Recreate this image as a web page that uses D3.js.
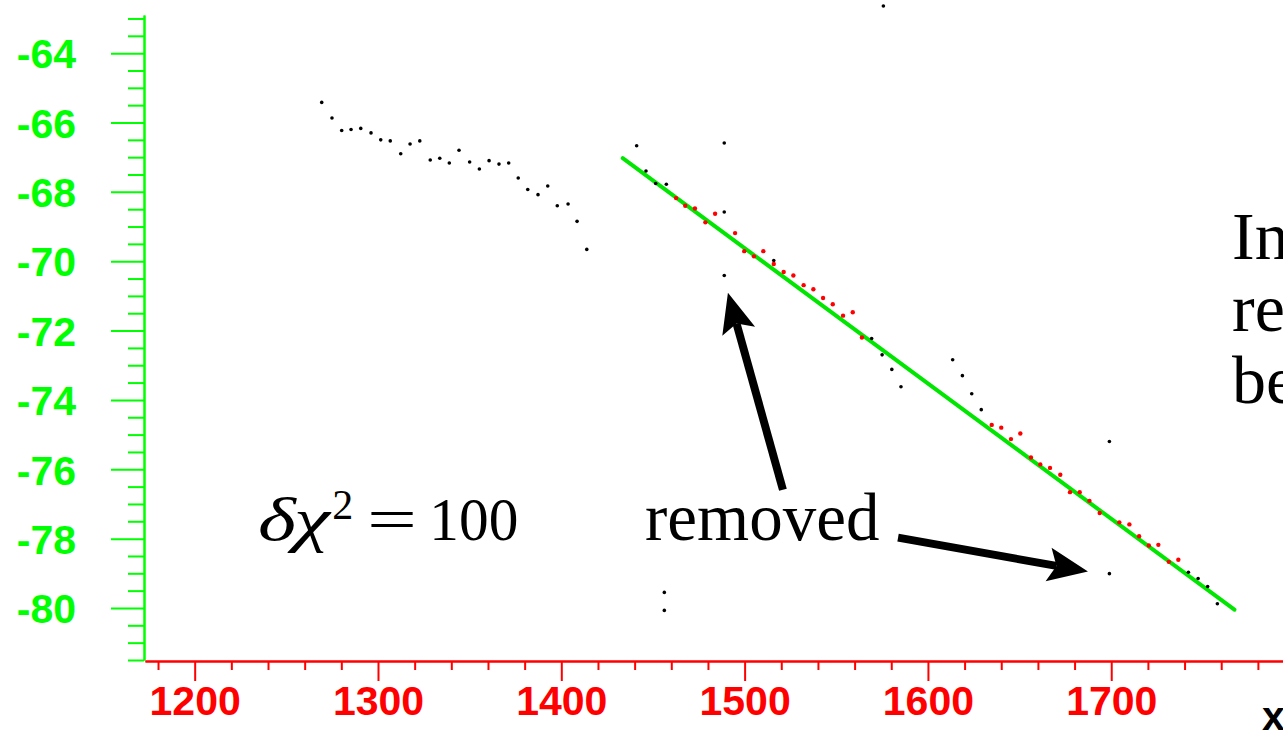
<!DOCTYPE html>
<html>
<head>
<meta charset="utf-8">
<script src="https://cdn.jsdelivr.net/npm/d3@7"></script>
<style>
    body { margin: 0; background: #ffffff; }
    svg { display: block; }
</style>
</head>
<body>
<div id="chart"></div>
<script>
// Axis labels
const xTicks = [1200, 1300, 1400, 1500, 1600, 1700];
const yTicks = [-80, -78, -76, -74, -72, -70, -68, -66, -64];

// Black points (all solutions, not used in the fit)
const blackX = [1269.3, 1274.9, 1280.2, 1285.3, 1290.6, 1296.2, 1301.5, 1306.7, 1312.4, 1317.5,
    1322.8, 1328.5, 1333.7, 1338.9, 1344.2, 1350.0, 1355.3, 1360.6, 1366.0, 1371.3,
    1376.5, 1381.7, 1387.3, 1392.6, 1397.8, 1403.7, 1408.6, 1413.9,
    1441.1, 1446.2, 1451.5, 1457.3, 1456.2, 1456.2, 1488.9, 1488.9, 1488.9, 1515.9,
    1569.3, 1575.0, 1575.7, 1580.3, 1585.3, 1613.5, 1618.8, 1623.9, 1629.1,
    1699.0, 1699.0, 1742.1, 1747.4, 1752.6, 1757.9];
const blackY = [-65.42, -65.87, -66.23, -66.20, -66.17, -66.30, -66.50, -66.53, -66.90, -66.62,
    -66.53, -67.08, -67.03, -67.17, -66.80, -67.14, -67.34, -67.10, -67.20, -67.17,
    -67.60, -67.93, -68.08, -67.83, -68.40, -68.35, -68.85, -69.66,
    -66.67, -67.40, -67.76, -67.78, -79.55, -80.07, -66.59, -68.58, -70.41, -69.98,
    -72.23, -72.70, -62.64, -73.12, -73.62, -72.84, -73.30, -73.82, -74.28,
    -75.20, -79.01, -78.97, -79.15, -79.38, -79.88];

// Red points (kept in the fit)
const redX = [1462.6, 1467.6, 1472.9, 1478.6, 1483.9, 1494.8, 1499.8, 1505.1, 1510.2, 1515.9,
    1521.3, 1526.6, 1532.2, 1537.5, 1542.8, 1548.1, 1553.7, 1559.0, 1564.0,
    1634.8, 1640.0, 1645.3, 1650.4, 1656.2, 1661.3, 1666.6, 1672.2, 1677.5, 1682.8,
    1688.1, 1693.7, 1704.4, 1709.9, 1715.2, 1720.5, 1725.7, 1731.4, 1736.6];
const redY = [-68.18, -68.40, -68.48, -68.88, -68.63, -69.19, -69.71, -69.86, -69.71, -70.08,
    -70.31, -70.41, -70.69, -70.81, -71.06, -71.24, -71.57, -71.47, -72.20,
    -74.72, -74.80, -75.13, -74.97, -75.66, -75.86, -75.96, -76.16, -76.66, -76.66,
    -76.91, -77.26, -77.53, -77.59, -77.93, -78.20, -78.18, -78.67, -78.61];

// Fitted straight line (end points)
const fitX = [1433.5, 1767.2];
const fitY = [-67.03, -80.05];

// Arrows: [tailX, tailY, tipX, tipY] in data units
const arrows = [
    [1520.9, -76.59, 1490.9, -70.91],
    [1583.7, -77.97, 1687.3, -78.95]
];

const width = 1283, height = 731;

const svg = d3.select("#chart").append("svg")
    .attr("width", width)
    .attr("height", height);

const x = d3.scaleLinear().domain([1172.9, 1793.7]).range([145, 1283]);
const y = d3.scaleLinear().domain([-81.5, -62.9]).range([660, 15]);

const axisFont = "'Liberation Sans', Arial, Helvetica, sans-serif";

// Y axis (green) - minor ticks first, then the major ones with labels
const yMinor = d3.range(-81.5, -62.9, 0.5).filter(v => !yTicks.includes(v));
const yAxisMinor = svg.append("g")
    .attr("transform", "translate(144,0)")
    .style("color", "#00ff00")
    .call(d3.axisLeft(y).tickValues(yMinor).tickSize(16).tickSizeOuter(0).tickFormat(""));
const yAxis = svg.append("g")
    .attr("transform", "translate(144,0)")
    .style("color", "#00ff00")
    .call(d3.axisLeft(y).tickValues(yTicks).tickSize(33).tickSizeOuter(0).tickPadding(35).tickFormat(d => String(d)));
for (const g of [yAxisMinor, yAxis]) {
    g.selectAll("path, line").attr("stroke-width", 2);
}
yAxis.selectAll("text")
    .attr("font-family", axisFont)
    .attr("font-weight", "bold")
    .attr("font-size", 41)
    .attr("fill", "#00ff00")
    .attr("dy", "0.36em");

// X axis (red)
const xMinor = d3.range(1180, 1781, 20).filter(v => !xTicks.includes(v));
const xAxisMinor = svg.append("g")
    .attr("transform", "translate(0,661)")
    .style("color", "#ff0000")
    .call(d3.axisBottom(x).tickValues(xMinor).tickSize(9).tickSizeOuter(0).tickFormat(""));
const xAxis = svg.append("g")
    .attr("transform", "translate(0,661)")
    .style("color", "#ff0000")
    .call(d3.axisBottom(x).tickValues(xTicks).tickSize(20).tickSizeOuter(0).tickFormat(d => String(d)));
for (const g of [xAxisMinor, xAxis]) {
    g.selectAll("path, line").attr("stroke-width", 2);
}
xAxis.selectAll("text")
    .attr("font-family", axisFont)
    .attr("font-weight", "bold")
    .attr("font-size", 41)
    .attr("fill", "#ff0000")
    .attr("y", 54)
    .attr("dy", 0);

// x axis title, cut at the bottom right corner
svg.append("text")
    .attr("x", 1262)
    .attr("y", 730)
    .attr("font-family", axisFont)
    .attr("font-weight", "bold")
    .attr("font-size", 41)
    .attr("fill", "#000")
    .text("x");

// Fit line
svg.append("line")
    .attr("x1", x(fitX[0])).attr("y1", y(fitY[0]))
    .attr("x2", x(fitX[1])).attr("y2", y(fitY[1]))
    .attr("stroke", "#00e600")
    .attr("stroke-width", 4)
    .attr("stroke-linecap", "round");

// Points
svg.append("g").selectAll("circle")
    .data(d3.zip(blackX, blackY))
    .join("circle")
        .attr("cx", d => x(d[0]))
        .attr("cy", d => y(d[1]))
        .attr("r", 1.8)
        .attr("fill", "#000");

svg.append("g").selectAll("circle")
    .data(d3.zip(redX, redY))
    .join("circle")
        .attr("cx", d => x(d[0]))
        .attr("cy", d => y(d[1]))
        .attr("r", 2.2)
        .attr("fill", "#ff0000");

// Arrows
const headLen = 40, headHalf = 17, notch = 8;
for (const a of arrows) {
    const x0 = x(a[0]), y0 = y(a[1]), x1 = x(a[2]), y1 = y(a[3]);
    const len = Math.hypot(x1 - x0, y1 - y0);
    const ux = (x1 - x0) / len, uy = (y1 - y0) / len;
    const nx = -uy, ny = ux;
    const bx = x1 - ux * headLen, by = y1 - uy * headLen;
    svg.append("line")
        .attr("x1", x0).attr("y1", y0)
        .attr("x2", bx + ux * notch).attr("y2", by + uy * notch)
        .attr("stroke", "#000")
        .attr("stroke-width", 8);
    svg.append("path")
        .attr("d", `M${x1},${y1} L${bx + nx * headHalf},${by + ny * headHalf} L${bx + ux * notch},${by + uy * notch} L${bx - nx * headHalf},${by - ny * headHalf} Z`)
        .attr("fill", "#000");
}

// Annotations
const serif = "'Liberation Serif', 'Times New Roman', Times, serif";
const textBase = y(-78.05);

svg.append("text")
    .attr("x", 645)
    .attr("y", textBase)
    .attr("font-family", serif)
    .attr("font-size", 67)
    .attr("fill", "#000")
    .text("removed");

const chi = svg.append("g")
    .attr("font-family", serif)
    .attr("fill", "#000");
chi.append("text")
    .attr("x", x(1234.5)).attr("y", textBase)
    .attr("font-size", 62)
    .attr("font-style", "italic")
    .attr("textLength", 72)
    .attr("lengthAdjust", "spacingAndGlyphs")
    .text("δχ");
chi.append("text")
    .attr("x", x(1275)).attr("y", textBase - 21)
    .attr("font-size", 42)
    .text("2");
chi.append("text")
    .attr("x", x(1294)).attr("y", textBase)
    .attr("font-size", 62)
    .attr("textLength", 50)
    .attr("lengthAdjust", "spacingAndGlyphs")
    .text("=");
chi.append("text")
    .attr("x", x(1328)).attr("y", textBase)
    .attr("font-size", 62)
    .attr("textLength", 89)
    .attr("lengthAdjust", "spacingAndGlyphs")
    .text("100");

const sideLines = ["In", "re", "be"];
svg.append("g").selectAll("text")
    .data(sideLines)
    .join("text")
        .attr("x", 1232)
        .attr("y", (d, i) => 259 + i * 72)
        .attr("font-family", serif)
        .attr("font-size", 68)
        .attr("fill", "#000")
        .text(d => d);
</script>
</body>
</html>
